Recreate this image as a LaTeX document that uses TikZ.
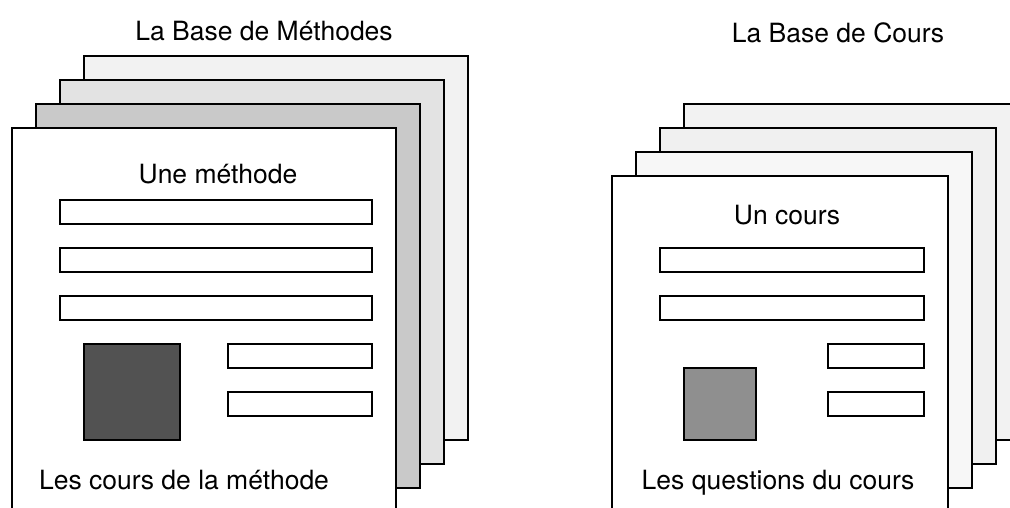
\documentclass[tikz,border=0pt]{standalone}
\usepackage{fontspec}
\setmainfont{TeX Gyre Heros}
\usetikzlibrary{positioning}

\begin{document}
\begin{tikzpicture}[x=1pt, y=-1pt, line width=1.8pt,
    page/.style={draw=black},
    bar/.style={draw=black, fill=white},
    label/.style={font=\fontsize{26.5}{30}\selectfont, anchor=base, inner sep=0pt}]

    \useasboundingbox (0,0) rectangle (1010,508);

    % la base de methodes
    \node[label] (titreM) at (264,41) {La Base de Méthodes};

    \filldraw[page, fill=black!5]  (84,56)  rectangle (468,440);
    \filldraw[page, fill=black!11] (60,80)  rectangle (444,464);
    \filldraw[page, fill=black!21] (36,104) rectangle (420,488);
    \filldraw[page, fill=white]    (12,128) rectangle (396,512);

    \node[label] (methode) at (218,183) {Une méthode};

    \filldraw[bar] (60,200) rectangle (372,224);
    \filldraw[bar] (60,248) rectangle (372,272);
    \filldraw[bar] (60,296) rectangle (372,320);
    \filldraw[page, fill=black!68] (84,344) rectangle (180,440);
    \filldraw[bar] (228,344) rectangle (372,368);
    \filldraw[bar] (228,392) rectangle (372,416);

    \node[label] (coursM) at (184,489) {Les cours de la méthode};

    % la base de cours
    \node[label] (titreC) at (838,43) {La Base de Cours};

    \filldraw[page, fill=black!5] (684,104) rectangle (1020,440);
    \filldraw[page, fill=black!6] (660,128) rectangle (996,464);
    \filldraw[page, fill=black!3] (636,152) rectangle (972,488);
    \filldraw[page, fill=white]   (612,176) rectangle (948,512);

    \node[label] (cours) at (787,225) {Un cours};

    \filldraw[bar] (660,248) rectangle (924,272);
    \filldraw[bar] (660,296) rectangle (924,320);
    \filldraw[page, fill=black!44] (684,368) rectangle (756,440);
    \filldraw[bar] (828,344) rectangle (924,368);
    \filldraw[bar] (828,392) rectangle (924,416);

    \node[label] (questions) at (778,489) {Les questions du cours};

\end{tikzpicture}
\end{document}
